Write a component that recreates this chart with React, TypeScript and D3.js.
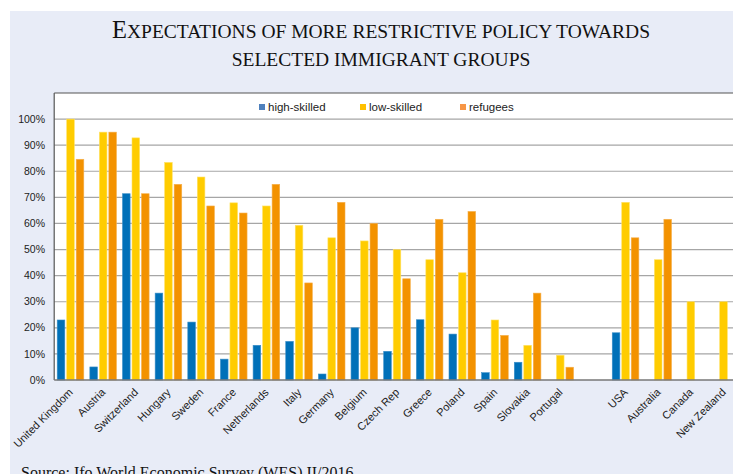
import React from "react";
import * as d3 from "d3";

const categories = ["United Kingdom","Austria","Switzerland","Hungary","Sweden","France","Netherlands","Italy","Germany","Belgium","Czech Rep","Greece","Poland","Spain","Slovakia","Portugal","","USA","Australia","Canada","New Zealand"];
const highSkilled = [23,5,71.4,33.3,22.2,8,13.3,14.8,2.3,20,11,23.1,17.6,2.8,6.8,null,null,18.1,null,null,null];
const lowSkilled = [100,95,92.8,83.4,77.8,67.9,66.7,59.3,54.5,53.3,50,46.1,41.1,23,13.3,9.5,null,68.1,46.1,30,30];
const refugees = [84.6,95,71.4,75,66.7,64,75,37.2,68.1,60,38.8,61.6,64.6,17.1,33.3,4.9,null,54.5,61.6,null,null];
const seriesNames = ["high-skilled","low-skilled","refugees"];
const yTicks = [0,10,20,30,40,50,60,70,80,90,100];

const barColors = ["#0070b8","#ffcc00","#f39200"];
const barStroke = ["#3a8fc8","#ffe266","#f6b04c"];
const legendColors = ["#4f81bd","#ffc000","#f79646"];

export default function App() {
  const W = 733, H = 474;
  const left = 54.2, step = 32.65;
  const keys = categories.map((c, i) => "k" + i);
  const x0 = d3.scaleBand().domain(keys).range([left, left + step * categories.length]).paddingInner(0).paddingOuter(0);
  const x1 = d3.scaleBand().domain(seriesNames).range([3.0, 29.6]).paddingInner(0.2).paddingOuter(0);
  const y = d3.scaleLinear().domain([0, 110]).range([380, 93]);
  const data = [highSkilled, lowSkilled, refugees];
  const serif = "'Liberation Serif','Times New Roman',serif";
  const sans = "'Liberation Sans',Arial,sans-serif";
  return (
    <div style={{ position: "fixed", left: 0, top: 0, width: W, height: H, background: "#fff" }}>
      <svg width={W} height={H} style={{ display: "block" }}>
        <rect x={10} y={11} width={W} height={H} fill="#e8ecf7" />
        <text x={381} y={38} textAnchor="middle" fontFamily={serif} fontSize={19.5} fill="#111">
          <tspan fontSize={24.5}>E</tspan>XPECTATIONS OF MORE RESTRICTIVE POLICY TOWARDS
        </text>
        <text x={381} y={65.5} textAnchor="middle" fontFamily={serif} fontSize={19.5} fill="#111">SELECTED IMMIGRANT GROUPS</text>
        <rect x={left} y={y(110)} width={W - left} height={y(0) - y(110)} fill="#fff" />
        {yTicks.map(t => (
          <g key={t}>
            {t > 0 && <line x1={left} x2={W} y1={y(t)} y2={y(t)} stroke="#a6a6a6" strokeWidth={1.2} />}
            <text x={45} y={y(t)} dy="0.35em" textAnchor="end" fontFamily={sans} fontSize={10.5} fill="#222">{t}%</text>
          </g>
        ))}
        {data.map((arr, si) => arr.map((v, ci) => v == null ? null : (
          <rect key={si + "-" + ci}
            x={(x0(keys[ci]) as number) + (x1(seriesNames[si]) as number)}
            y={y(v)} width={x1.bandwidth()} height={y(0) - y(v)}
            fill={barColors[si]} stroke={barStroke[si]} strokeWidth={0.6} />
        )))}
        <line x1={left} x2={W} y1={y(110)} y2={y(110)} stroke="#555" strokeWidth={1.2} />
        <line x1={left} x2={left} y1={y(110)} y2={y(0)} stroke="#555" strokeWidth={1.2} />
        <line x1={left} x2={W} y1={y(0)} y2={y(0)} stroke="#777" strokeWidth={1.5} />
        {seriesNames.map((s, i) => {
          const lx = [259, 360, 460][i];
          return (
            <g key={s}>
              <rect x={lx} y={104} width={6} height={6} fill={legendColors[i]} />
              <text x={lx + 9} y={111} fontFamily={sans} fontSize={11.5} fill="#222">{s}</text>
            </g>
          );
        })}
        {categories.map((c, i) => {
          const cx = (x0(keys[i]) as number) + x0.bandwidth() / 2 + 3;
          const cy = 393;
          return (
            <text key={"l" + i} x={cx} y={cy} textAnchor="end" fontFamily={sans} fontSize={11} fill="#222"
              transform={`rotate(-45 ${cx} ${cy})`}>{c}</text>
          );
        })}
        <text x={21} y={478} fontFamily={serif} fontSize={16} fill="#111">Source: Ifo World Economic Survey (WES) II/2016</text>
      </svg>
    </div>
  );
}
